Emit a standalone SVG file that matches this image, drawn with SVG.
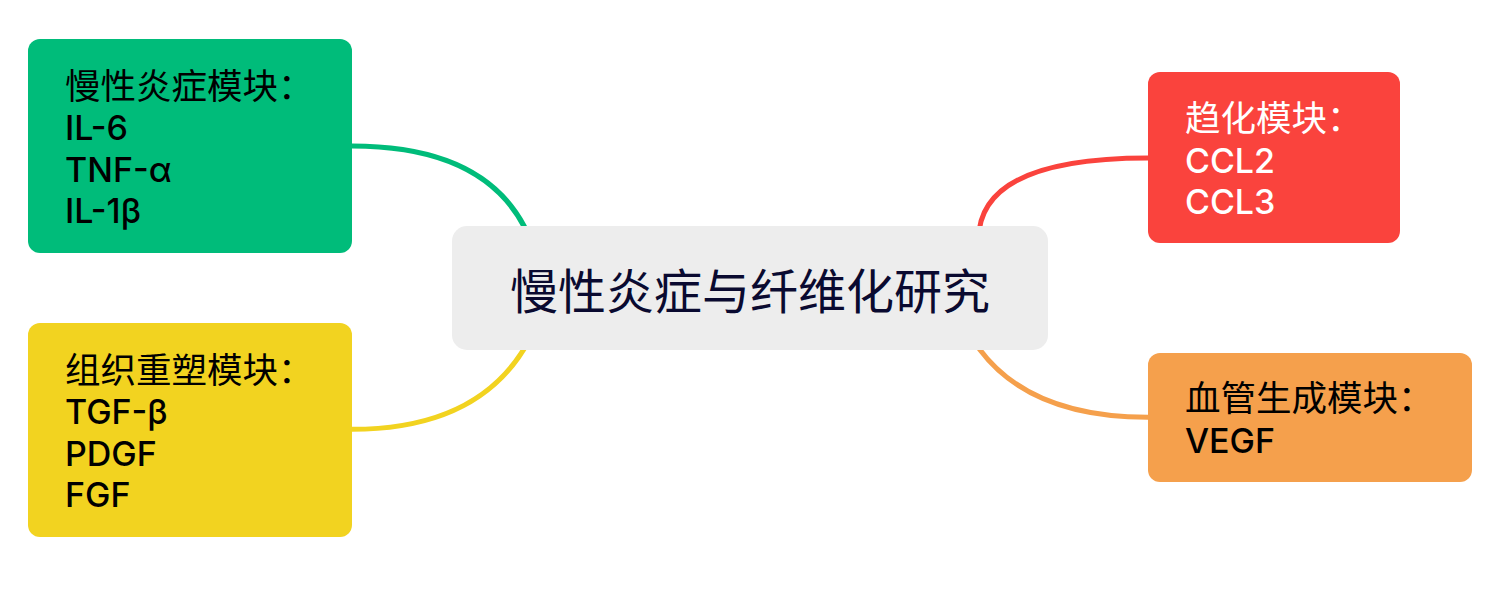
<svg xmlns="http://www.w3.org/2000/svg" width="1489" height="601" viewBox="0 0 1489 601">
<style>
.t{font-family:"Inter","Noto Sans CJK SC",sans-serif;font-size:34px;font-weight:500;}
.h{font-size:35.5px;font-weight:400;}
.c{fill:none;stroke-width:5;}
</style>
<rect width="1489" height="601" fill="#ffffff"/>
<g id="connectors">
<path class="c" stroke="#00BC7A" d="M545,324 Q545,146 352,146"/>
<path class="c" stroke="#F2D320" d="M545.4,300 Q507.4,429.3 352,429.3"/>
<path class="c" stroke="#FA433D" d="M978.5,240 Q978.5,158 1148,158"/>
<path class="c" stroke="#F5A04C" d="M954.2,300 Q993.6,417.3 1148,417.3"/>
</g>
<g id="root">
<rect x="452" y="226" width="596" height="124" rx="15" fill="#EDEDED"/>
<text x="750" y="309" text-anchor="middle" font-family="Inter, 'Noto Sans CJK SC', sans-serif" font-size="48" fill="#0A0A30">慢性炎症与纤维化研究</text>
</g>
<g id="inflammation">
<rect x="28" y="39" width="324" height="214" rx="12" fill="#00BC7A"/>
<text class="t" fill="#000000"><tspan class="h" x="65" y="98.5">慢性炎症模块：</tspan><tspan x="65" y="140">IL-6</tspan><tspan x="65" y="181.5">TNF-α</tspan><tspan x="65" y="223">IL-1β</tspan></text>
</g>
<g id="remodeling">
<rect x="28" y="323" width="324" height="214" rx="12" fill="#F2D320"/>
<text class="t" fill="#000000"><tspan class="h" x="65" y="382.5">组织重塑模块：</tspan><tspan x="65" y="424">TGF-β</tspan><tspan x="65" y="465.5">PDGF</tspan><tspan x="65" y="507">FGF</tspan></text>
</g>
<g id="chemotaxis">
<rect x="1148" y="72" width="252" height="171" rx="12" fill="#FA433D"/>
<text class="t" fill="#ffffff"><tspan class="h" x="1185" y="131">趋化模块：</tspan><tspan x="1185" y="172.5">CCL2</tspan><tspan x="1185" y="214">CCL3</tspan></text>
</g>
<g id="angiogenesis">
<rect x="1148" y="353" width="324" height="129" rx="12" fill="#F5A04C"/>
<text class="t" fill="#000000"><tspan class="h" x="1185" y="410.5">血管生成模块：</tspan><tspan x="1185" y="453">VEGF</tspan></text>
</g>
</svg>
